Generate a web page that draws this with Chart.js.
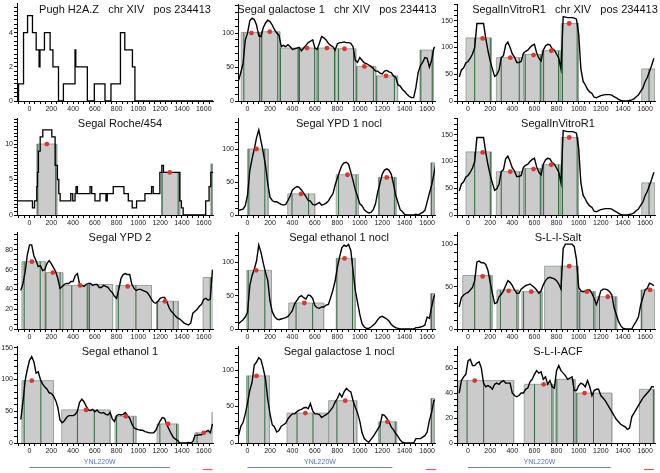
<!DOCTYPE html>
<html>
<head>
<meta charset="utf-8">
<script src="https://cdn.jsdelivr.net/npm/chart.js@4.4.0/dist/chart.umd.min.js"></script>
<style>
  body { margin: 0; background: #fff; width: 660px; height: 473px; position: relative; overflow: hidden;
         font-family: "Liberation Sans", Arial, sans-serif; }
  canvas { position: absolute; }
  .title { position: absolute; font-size: 11px; white-space: pre; color: #111; transform: translate(-50%, -50%); }
</style>
</head>
<body>
<script>
// sample positions (bp, relative to pos 234413) used by every coverage curve
const positions = [-80,-60,-40,-20,0,20,40,60,80,100,120,140,160,180,200,220,240,260,280,300,
  320,340,360,380,400,420,440,460,480,500,520,540,560,580,600,620,640,660,680,700,
  720,740,760,780,800,820,840,860,880,900,920,940,960,980,1000,1020,1040,1060,1080,1100,
  1120,1140,1160,1180,1200,1220,1240,1260,1280,1300,1320,1340,1360,1380,1400,1420,1440,1460,1480,1500,
  1520,1540,1560,1580,1600,1620,1640,1660,1680];

// coverage curves
const gal1Cov = [30,42,55,90,100,118,122,120,112,96, 95,108,115,119,117,112,105,100,97,80,
  82,80,83,80,76,77,78,79,74,78, 82,86,88,90,78,76,85,95,93,90,
  85,82,80,75,84,86,86,87,86,86, 85,80,60,57,64,60,56,55,53,51,
  48,44,44,41,40,44,45,43,42,37, 35,24,22,17,14,10,7,5,5,20, 42,52,57,64,63,50,60,78,80];
const ivr1Cov = [45,58,62,71,74,80,88,100,145,145, 145,145,117,94,75,60,46,49,58,81,
  85,105,110,100,88,82,72,72,74,89, 93,95,100,104,106,90,80,75,95,103,
  106,105,98,95,88,80,60,158,157,156, 156,156,155,153,125,60,37,30,22,17,
  14,7,6,8,10,11,12,12,12,11, 8,6,3,1,0,0,0,1,2,4, 8,11,18,24,36,44,55,67,80];
const ypd1nCov = [7,8,9,14,30,67,85,100,117,129, 112,95,75,48,27,22,20,20,18,16,
  15,16,22,29,38,41,43,42,38,33, 28,22,21,16,15,17,19,15,16,18,
  21,27,32,45,56,66,75,79,80,77, 65,52,38,28,17,14,8,5,3,4,
  8,17,35,48,62,68,70,68,62,47, 30,19,8,5,1,0,0,0,0,1, 0,2,4,7,20,33,45,62,80];
const ypd2Cov = [39,46,58,75,85,85,74,69,63,64, 59,60,66,69,66,62,58,51,41,43,
  45,46,46,48,48,54,56,45,44,43, 45,46,46,44,45,45,42,42,44,43,
  42,39,37,33,31,40,51,55,56,55, 55,45,41,39,40,40,39,38,37,34,
  30,27,26,28,31,32,32,28,22,18, 16,13,11,10,8,6,5,4,6,16, 18,20,23,25,30,31,29,30,60];
const eth1nCov = [8,11,14,18,25,65,80,90,102,126, 115,99,85,73,42,26,19,15,14,15,
  16,17,19,23,28,38,43,48,50,47, 45,51,50,46,35,32,31,33,33,36,
  37,47,58,72,92,108,122,126,124,127, 118,87,58,40,22,8,3,1,1,3,
  6,9,14,18,19,17,15,12,7,4, 2,1,0,0,0,0,0,0,0,2, 2,3,4,6,18,16,33,48,55];
const saltCov = [26,37,40,42,43,46,49,57,79,80, 78,78,76,69,55,42,30,31,38,41,
  45,51,57,55,51,46,42,42,47,49, 51,52,53,51,49,46,42,45,52,57,
  60,61,60,59,57,53,47,95,100,100, 100,100,97,82,49,45,44,45,46,46,
  42,36,29,36,45,47,47,46,44,40, 25,17,9,4,1,0,0,0,0,5, 9,14,28,37,46,48,54,53,51];
const eth1Cov = [37,65,98,116,130,136,128,110,112,100, 93,88,85,79,78,74,67,56,36,32,
  35,40,43,43,43,45,50,64,69,65, 58,52,51,53,49,52,48,47,48,45,
  44,48,38,34,43,45,44,45,48,43, 39,30,24,22,21,20,20,18,17,16,
  16,16,20,28,35,40,39,29,22,15, 9,6,4,0,0,0,0,1,0,2, 12,12,13,13,16,18,20,16,30];
const gal1nCov = [10,23,28,40,55,72,83,107,111,117, 114,102,88,60,40,25,22,15,17,23,
  25,27,33,37,40,40,43,45,46,48, 49,47,54,44,40,40,39,35,37,39,
  41,45,49,56,61,68,63,70,75,72, 70,58,49,41,30,14,6,3,1,5,
  9,14,19,24,39,38,34,29,22,18, 13,9,4,1,0,0,0,0,0,6, 6,6,8,10,15,31,42,58,60];
const acfCov = [40,50,53,55,66,67,62,62,64,65, 60,48,45,46,45,43,47,48,47,49,
  50,48,48,48,40,38,37,38,40,40, 43,44,49,51,55,58,56,57,51,53,
  47,50,45,44,58,62,58,56,54,51, 52,53,42,42,46,48,47,45,50,45,
  38,42,43,43,38,36,34,31,28,25, 22,19,17,15,14,13,11,12,21,24, 27,30,33,36,38,40,42,45,45];

// step (read count) tracks: position where the count changes, new count
const pughX  = [-115,-101,-55,-18,27,61,88,96,137,189,215,266,311,418,425,531,595,693,748,835,875,945,968,1685];
const pughY  = [0,1,4,5,4,3,2,3,4,3,2,0,1,3,2,0,1,0,1,4,3,2,0,0];
const rocheX = [-115,27,46,67,73,82,98,122,205,235,256,269,281,379,397,418,427,440,556,571,601,647,702,714,769,867,907,943,983,1060,1121,1136,1197,1215,1230,1380,1395,1411,1618,1649,1665,1685];
const rocheY = [2,1,2,4,6,9,11,12,11,7,5,3,2,3,2,3,4,3,4,3,2,3,2,3,4,3,2,1,2,3,4,3,6,7,6,2,1,0,2,4,6,6];

// nucleosome blocks (from, to, height), call lines (x, height), peak dots (x, y)
const rocheFrom = [67,1212,1665], rocheTo = [250,1380,1700], rocheH = [10,6,7.2];
const rocheCallX = [76,240,1218,1365,1675], rocheCallH = [10,10,6,6,7.2];
const rocheDotX = [159,1288], rocheDotY = [10,6];

const gal1From = [-56,121,287,456,618,796,964,1142,1536];
const gal1To   = [121,287,456,618,781,964,1142,1337,1654];
const gal1H    = [101,102,78,78,78,77,51,37,75];
const gal1CallX = [-33,107,127,269,293,450,462,598,630,775,811,944,973,1121,1151,1308,1544,1645];
const gal1CallH = [101,101,102,102,78,78,78,78,78,78,77,77,51,51,37,37,75,75];
const gal1DotX = [35,198,530,707,864,1041,1234], gal1DotY = [100,102,78,78,77,51,37];

const ivr1From = [-18,256,502,668,842,1570];
const ivr1To   = [210,502,662,833,998,1690];
const ivr1H    = [118,81,87,94,145,60];
const ivr1CallX = [60,201,300,463,517,653,683,818,854,986,1636];
const ivr1CallH = [118,118,81,81,87,87,94,94,145,145,60];
const ivr1DotX = [132,382,592,752,914], ivr1DotY = [117,81,86,94,145];

const ypd1nFrom = [0,358,790,1166,1633], ypd1nTo = [183,598,988,1322,1663], ypd1nH = [100,32,61,57,79];
const ypd1nCallX = [12,154,396,544,811,967,1172,1308,1640], ypd1nCallH = [100,100,32,32,61,61,57,57,79];
const ypd1nDotX = [80,476,890,1240], ypd1nDotY = [100,32,61,57];

const ypd2From = [-70,144,305,540,794,1166,1594], ypd2To = [144,305,540,763,1120,1365,1700], ypd2H = [68,57,44,45,44,28,52];
const ypd2CallX = [-49,98,150,281,388,530,550,815,977,1175,1320,1660], ypd2CallH = [68,68,57,57,44,44,45,44,44,28,28,52];
const ypd2DotX = [21,214,464,901,1243], ypd2DotY = [68,57,44,43,28];

const eth1nFrom = [-6,367,790,1630], eth1nTo = [213,678,959,1663], eth1nH = [88,39,106,53];
const eth1nCallX = [6,154,432,580,796,935,1640], eth1nCallH = [88,88,39,39,106,106,53];
const eth1nDotX = [77,506,864], eth1nDotY = [88,39,106];

const saltFrom = [-48,262,487,692,998,1164,1564], saltTo = [217,457,668,998,1149,1344,1690], saltH = [63,46,44,74,44,38,46];
const saltCallX = [60,201,292,442,502,653,842,986,1010,1136,1188,1330,1570], saltCallH = [63,63,46,46,44,44,74,74,44,44,38,38,46];
const saltDotX = [132,367,571,914,1074,1263,1645], saltDotY = [62,45,44,74,44,38,46];

const eth1From = [-70,296,785,1172,1518,1675], eth1To = [220,739,977,1365,1690,1700], eth1H = [98,52,42,30,16,48];
const eth1CallX = [-49,104,440,595,800,953,1197,1350,1539], eth1CallH = [98,98,52,52,42,42,30,30,16];
const eth1DotX = [21,519,885,1273,1600], eth1DotY = [98,52,42,30,16];

const gal1nFrom = [-9,352,722,1166,1633], gal1nTo = [195,722,973,1328,1663], gal1nH = [92,41,58,29,61];
const gal1nCallX = [6,154,441,583,796,944,1181,1316,1640], gal1nCallH = [92,92,41,41,58,58,29,29,61];
const gal1nDotX = [80,515,870,1246], gal1nDotY = [92,41,58,29];

const acfFrom = [-84,508,788,968,1549], acfTo = [412,773,968,1299,1684], acfH = [50,47,51,40,43];
const acfCallX = [-9,141,601,758,803,953,983,1134,1675], acfCallH = [50,50,47,47,51,51,40,40,43];
const acfDotX = [60,683,1053], acfDotY = [50,47,40];

// gene annotation under the bottom row
const geneName = 'YNL220W';
const geneSpan = [0, 1290];
const tailSpan = [1590, 1680];

// per column layout
const colLeft = [0, 220, 440];
const yAxisW = [17, 18, 17];
const padRight = [7, 5, 5];
const xMin = [-115, -85, -100];
const xMax = [1685, 1670, 1690];

const panels = [
  {row:0, col:0, title:'Pugh H2A.Z   chr XIV   pos 234413', tx:125, yMax:5.74, major:2, minor:0.25, stepX:pughX, stepY:pughY},
  {row:1, col:0, title:'Segal Roche/454', tx:120, yMax:13.67, major:5, minor:0.5, stepX:rocheX, stepY:rocheY,
   blocks:[rocheFrom, rocheTo, rocheH], calls:[rocheCallX, rocheCallH], dots:[rocheDotX, rocheDotY]},
  {row:2, col:0, title:'Segal YPD 2', tx:120, yMax:98, major:20, minor:5, cov:ypd2Cov,
   blocks:[ypd2From, ypd2To, ypd2H], calls:[ypd2CallX, ypd2CallH], dots:[ypd2DotX, ypd2DotY]},
  {row:3, col:0, title:'Segal ethanol 1', tx:120, yMax:152.6, major:50, minor:10, cov:eth1Cov,
   blocks:[eth1From, eth1To, eth1H], calls:[eth1CallX, eth1CallH], dots:[eth1DotX, eth1DotY]},
  {row:0, col:1, title:'Segal galactose 1   chr XIV   pos 234413', tx:337, yMax:142.9, major:50, minor:10, cov:gal1Cov,
   blocks:[gal1From, gal1To, gal1H], calls:[gal1CallX, gal1CallH], dots:[gal1DotX, gal1DotY]},
  {row:1, col:1, title:'Segal YPD 1 nocl', tx:339, yMax:147, major:50, minor:10, cov:ypd1nCov,
   blocks:[ypd1nFrom, ypd1nTo, ypd1nH], calls:[ypd1nCallX, ypd1nCallH], dots:[ypd1nDotX, ypd1nDotY]},
  {row:2, col:1, title:'Segal ethanol 1 nocl', tx:339, yMax:145.6, major:50, minor:10, cov:eth1nCov,
   blocks:[eth1nFrom, eth1nTo, eth1nH], calls:[eth1nCallX, eth1nCallH], dots:[eth1nDotX, eth1nDotY]},
  {row:3, col:1, title:'Segal galactose 1 nocl', tx:339, yMax:133, major:50, minor:10, cov:gal1nCov,
   blocks:[gal1nFrom, gal1nTo, gal1nH], calls:[gal1nCallX, gal1nCallH], dots:[gal1nDotX, gal1nDotY]},
  {row:0, col:2, title:'SegalInVitroR1   chr XIV   pos 234413', tx:565, yMax:181.5, major:50, minor:10, cov:ivr1Cov,
   blocks:[ivr1From, ivr1To, ivr1H], calls:[ivr1CallX, ivr1CallH], dots:[ivr1DotX, ivr1DotY]},
  {row:1, col:2, title:'SegalInVitroR1', tx:558, yMax:181.5, major:50, minor:10, cov:ivr1Cov,
   blocks:[ivr1From, ivr1To, ivr1H], calls:[ivr1CallX, ivr1CallH], dots:[ivr1DotX, ivr1DotY]},
  {row:2, col:2, title:'S-L-I-Salt', tx:558, yMax:114.3, major:50, minor:10, cov:saltCov,
   blocks:[saltFrom, saltTo, saltH], calls:[saltCallX, saltCallH], dots:[saltDotX, saltDotY]},
  {row:3, col:2, title:'S-L-I-ACF', tx:558, yMax:77.7, major:20, minor:5, cov:acfCov,
   blocks:[acfFrom, acfTo, acfH], calls:[acfCallX, acfCallH], dots:[acfDotX, acfDotY]}
];

Chart.defaults.font.family = "'Liberation Sans', Arial, sans-serif";
Chart.defaults.font.size = 7;
Chart.defaults.color = '#222';
Chart.defaults.elements.point.radius = 0;
Chart.defaults.elements.line.tension = 0;

function tickList(min, max, step) {
  const t = [];
  for (let k = Math.ceil(min / step - 1e-9); k * step <= max + 1e-9; k++) t.push({value: +(k * step).toFixed(6)});
  return t;
}

function axis(min, max, major, minor, size, isX) {
  return {
    type: 'linear', min: min, max: max,
    afterBuildTicks: (s) => { s.ticks = tickList(min, max, minor); },
    afterFit: (s) => {
      if (isX) s.height = size; else s.width = size;
      s.paddingTop = 0; s.paddingBottom = 0; s.paddingLeft = 0; s.paddingRight = 0;
    },
    ticks: {
      autoSkip: false, maxRotation: 0, padding: 1,
      callback: (v) => Math.abs(v / major - Math.round(v / major)) < 1e-6 ? String(v) : ''
    },
    grid: { drawOnChartArea: false, drawTicks: true, tickLength: 3, color: '#000' },
    border: { display: true, color: '#000', width: 1 }
  };
}

function makeDatasets(p) {
  const sets = [];
  if (p.blocks) {
    const [from, to, h] = p.blocks;
    from.forEach((a, i) => sets.push({
      data: [{x:a, y:0}, {x:a, y:h[i]}, {x:to[i], y:h[i]}, {x:to[i], y:0}],
      fill: 'origin', backgroundColor: '#cbcbcb', borderColor: '#9aa69e', borderWidth: 1, order: 4
    }));
  }
  if (p.calls) {
    const pts = [];
    p.calls[0].forEach((x, i) => pts.push({x:x, y:0}, {x:x, y:p.calls[1][i]}, {x:x, y:null}));
    sets.push({ data: pts, borderColor: '#2d6b3c', borderWidth: 1, spanGaps: false, order: 3 });
  }
  if (p.cov) {
    sets.push({ data: positions.map((x, i) => ({x:x, y:p.cov[i]})), borderColor: '#000', borderWidth: 1.4, order: 2 });
  }
  if (p.stepX) {
    sets.push({ data: p.stepX.map((x, i) => ({x:x, y:p.stepY[i]})), stepped: true, borderColor: '#000', borderWidth: 1.3, order: 2 });
  }
  if (p.dots) {
    sets.push({ data: p.dots[0].map((x, i) => ({x:x, y:p.dots[1][i]})), showLine: false,
      pointRadius: 2.4, pointBackgroundColor: '#e5332a', pointBorderWidth: 0, order: 1 });
  }
  return sets;
}

const genePlugin = {
  id: 'gene',
  afterDraw(chart) {
    const xs = chart.scales.x, ctx = chart.ctx, b = chart.chartArea.bottom;
    ctx.save();
    ctx.strokeStyle = '#6d82c9';
    ctx.lineWidth = 1.2;
    ctx.beginPath();
    ctx.moveTo(xs.getPixelForValue(geneSpan[0]), b + 24.5);
    ctx.lineTo(xs.getPixelForValue(geneSpan[1]), b + 24.5);
    ctx.stroke();
    ctx.fillStyle = '#5a72c4';
    ctx.font = "7px 'Liberation Sans', Arial, sans-serif";
    ctx.textAlign = 'center';
    ctx.textBaseline = 'middle';
    ctx.fillText(geneName, xs.getPixelForValue((geneSpan[0] + geneSpan[1]) / 2), b + 19);
    ctx.strokeStyle = '#e05a5a';
    ctx.beginPath();
    ctx.moveTo(xs.getPixelForValue(tailSpan[0]), b + 26.5);
    ctx.lineTo(xs.getPixelForValue(tailSpan[1]), b + 26.5);
    ctx.stroke();
    ctx.restore();
  }
};

panels.forEach((p) => {
  const bottomRow = p.row === 3;
  const cv = document.createElement('canvas');
  cv.width = 220;
  cv.height = bottomRow ? 131 : 114;
  cv.style.left = colLeft[p.col] + 'px';
  cv.style.top = (p.row * 114) + 'px';
  document.body.appendChild(cv);

  new Chart(cv, {
    type: 'line',
    data: { datasets: makeDatasets(p) },
    options: {
      responsive: false,
      animation: false,
      layout: { padding: { left: 0, right: padRight[p.col], top: 3, bottom: bottomRow ? 17 : 0 } },
      plugins: { legend: { display: false }, tooltip: { enabled: false } },
      scales: {
        x: axis(xMin[p.col], xMax[p.col], 200, 50, 13, true),
        y: axis(0, p.yMax, p.major, p.minor, yAxisW[p.col], false)
      }
    },
    plugins: bottomRow ? [genePlugin] : []
  });

  const t = document.createElement('div');
  t.className = 'title';
  t.textContent = p.title;
  t.style.left = p.tx + 'px';
  t.style.top = (8.5 + p.row * 114) + 'px';
  document.body.appendChild(t);
});
</script>
</body>
</html>
